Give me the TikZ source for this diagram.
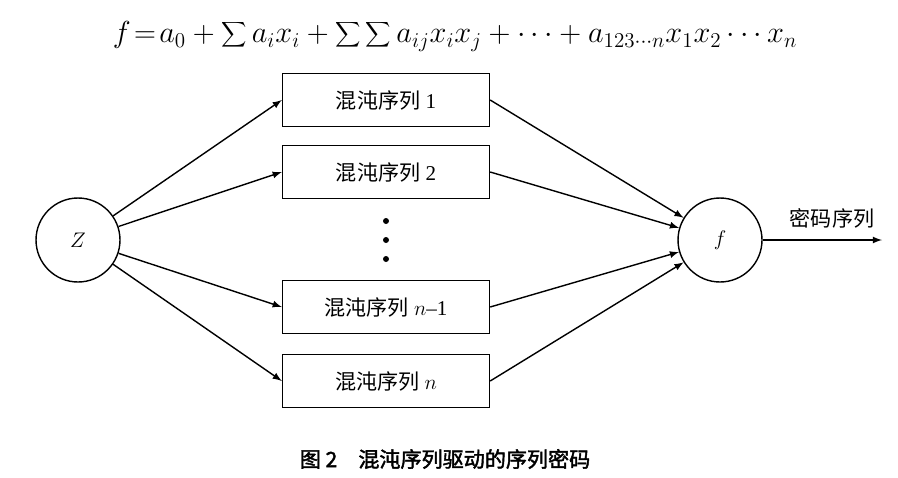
\documentclass[tikz,border=0pt]{standalone}
\usepackage{fontspec}
\setmainfont{Liberation Serif}
\newfontfamily\cjk[AutoFakeBold=2]{Noto Sans CJK SC}
\usetikzlibrary{positioning}
\begin{document}
\begin{tikzpicture}[x=0.02cm,y=-0.02cm]
      \tikzset{seq/.style={draw, thick, minimum width=4.14cm, minimum height=1.05cm, font=\large},
               unit/.style={draw, thick, circle, minimum size=1.68cm, font=\large},
               dot/.style={circle, fill=black, inner sep=0pt, minimum size=.12cm},
               flow/.style={->, >=latex, thick}}
      \useasboundingbox (0,0) rectangle (898,477);
%% Formula
      	\node (eq) at (455,36) {\LARGE $\displaystyle f\!=\!a_0+\sum\nolimits a_ix_i+\sum\nolimits\sum\nolimits a_{ij}x_ix_j+\cdots+a_{123\cdots n}x_1x_2\cdots x_n$};
%% Nodes
      	\node[unit] (z) at (78,240) {$Z$};
      	\node[unit] (f) at (720,240) {$f$};
      	\node[seq] (s1) at (386,100) {{\cjk 混沌序列} 1};
      	\node[seq] (s2) at (386,172) {{\cjk 混沌序列} 2};
      	\node[seq] (s3) at (386,307) {{\cjk 混沌序列} $n$--1};
      	\node[seq] (s4) at (386,381) {{\cjk 混沌序列} $n$};
      	\foreach \k/\y in {1/221,2/240,3/259} \node[dot] (d\k) at (386,\y) {};
      	\coordinate (out) at (882,240);
      	\node[font=\cjk\large] (lbl) at (832,218) {密码序列};
%% Edges
      	\foreach \s in {s1,s2,s3,s4} {
      		\draw[flow] (z) -- (\s.west);
      		\draw[flow] (\s.east) -- (f);
      	}
      	\draw[flow] (f) -- (out);
%% Caption
      	\node[font=\cjk\bfseries\large] (cap) at (445,459) {图 2\quad 混沌序列驱动的序列密码};
\end{tikzpicture}
\end{document}
